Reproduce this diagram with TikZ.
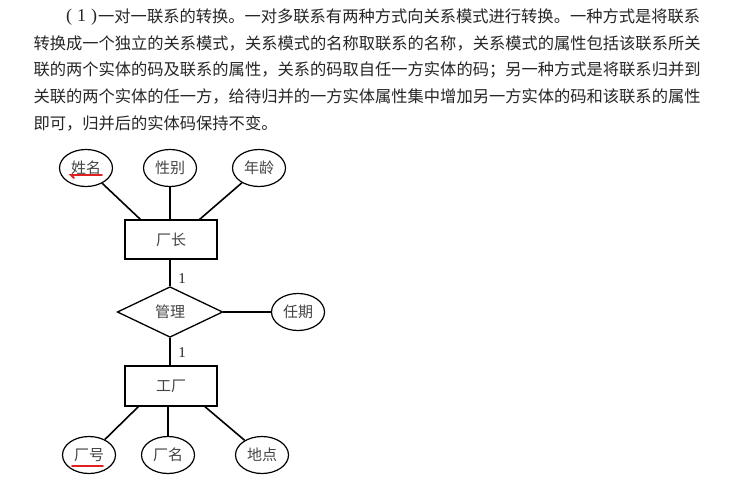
\documentclass[tikz,border=0pt]{standalone}
\usepackage{fontspec}
\setmainfont{Liberation Serif}
\newfontfamily\cjk{Noto Sans CJK SC}
\usetikzlibrary{shapes.geometric}
\definecolor{bodytxt}{HTML}{262626}
\definecolor{lbltxt}{HTML}{444444}
\definecolor{redline}{HTML}{E0201E}
\tikzset{
  bodyline/.style={anchor=west, inner sep=0pt, text=bodytxt, font=\cjk\fontsize{16.27}{18}\selectfont},
  attr/.style={ellipse, draw, line width=1.2pt, minimum width=53pt, minimum height=37pt, inner sep=0pt, text=lbltxt, font=\cjk\fontsize{15}{16}\selectfont},
  ent/.style={rectangle, draw, line width=1.4pt, minimum width=92pt, minimum height=39pt, inner sep=0pt, text=lbltxt, font=\cjk\fontsize{15}{16}\selectfont},
  rel/.style={diamond, draw, line width=1.3pt, minimum width=105.5pt, minimum height=50.6pt, inner sep=0pt, text=lbltxt, font=\cjk\fontsize{15}{16}\selectfont},
  conn/.style={line width=1.6pt},
  boldconn/.style={line width=2.4pt},
  card/.style={inner sep=0pt, text=bodytxt, font=\fontsize{15}{16}\selectfont}
}
\begin{document}
\begin{tikzpicture}[x=1pt,y=-1pt]
\useasboundingbox (0,0) rectangle (747,483);
\fill[white] (0,0) rectangle (747,483);

% body text
\node[bodyline, font=\fontsize{18}{18}\selectfont] (p0) at (66,16.7) {\makebox[31pt][s]{(\hfill 1\hfill )}};
\node[bodyline] (p1) at (98,16.7) {一对一联系的转换。一对多联系有两种方式向关系模式进行转换。一种方式是将联系};
\node[bodyline] (p2) at (33.3,43.3) {转换成一个独立的关系模式，关系模式的名称取联系的名称，关系模式的属性包括该联系所关};
\node[bodyline] (p3) at (33.3,70) {联的两个实体的码及联系的属性，关系的码取自任一方实体的码；另一种方式是将联系归并到};
\node[bodyline] (p4) at (33.3,96.7) {关联的两个实体的任一方，给待归并的一方实体属性集中增加另一方实体的码和该联系的属性};
\node[bodyline] (p5) at (33.3,123.3) {即可，归并后的实体码保持不变。};

% top attributes
\node[attr] (a1) at (86,168) {姓名};
\node[attr] (a2) at (170,168) {性别};
\node[attr] (a3) at (259,168) {年龄};

% entities and relationship
\node[ent] (e1) at (171,239.5) {厂长};
\node[rel] (r) at (170,312) {管理};
\node[attr] (a4) at (298,312) {任期};
\node[ent, minimum height=40pt] (e2) at (171,386) {工厂};

% bottom attributes
\node[attr] (b1) at (89,455) {厂号};
\node[attr] (b2) at (168,455) {厂名};
\node[attr] (b3) at (262,455) {地点};

% connectors top
\coordinate (t1) at ([xshift=16pt]e1.north west);
\coordinate (t3) at ([xshift=-18pt]e1.north east);
\draw[conn] (a1) -- (t1);
\draw[conn] (a2.south) -- (a2.south |- e1.north);
\draw[conn] (a3) -- (t3);

% relationship links
\draw[boldconn] (e1.south -| r.north) -- (r.north);
\draw[boldconn] (r.south) -- (r.south |- e2.north);
\draw[boldconn] (r.east) -- (a4.west);
\node[card] (c1) at (182,279) {1};
\node[card] (c2) at (182,353) {1};

% connectors bottom
\coordinate (u1) at ([xshift=14pt]e2.south west);
\coordinate (u3) at ([xshift=-12.7pt]e2.south east);
\draw[conn] (u1) -- (b1);
\draw[conn] (b2.north |- e2.south) -- (b2.north);
\draw[conn] (u3) -- (b3);

% red underlines
\coordinate (k1) at (71,175);
\coordinate (k2) at (102,175);
\coordinate (k0) at (74,178);
\draw[redline, line width=1.8pt, line cap=round] (k0) .. controls (72,176) .. (k1) -- (k2);
\coordinate (m1) at (72,466);
\coordinate (m2) at (103,466);
\draw[redline, line width=1.8pt, line cap=round] (m1) -- (m2);
\end{tikzpicture}
\end{document}
